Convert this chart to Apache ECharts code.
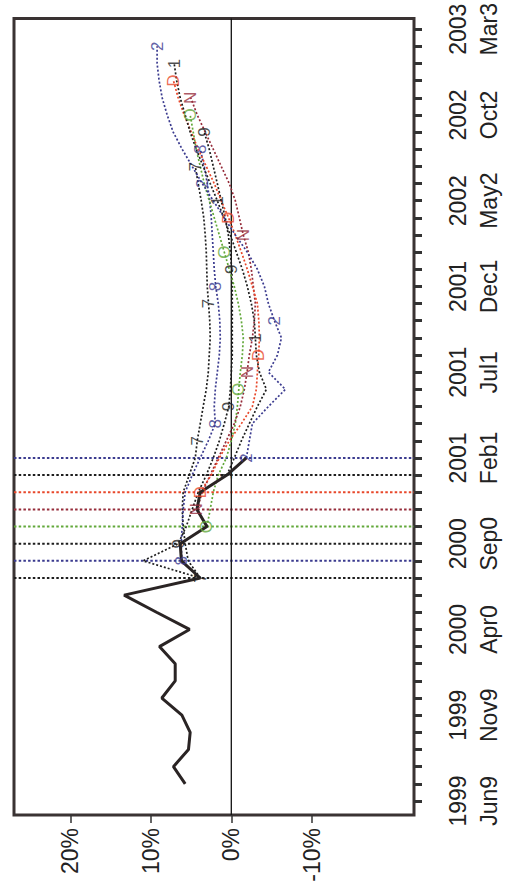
<!DOCTYPE html>
<html><head><meta charset="utf-8">
<script src="https://cdn.jsdelivr.net/npm/echarts@6/dist/echarts.min.js"></script>
<style>html,body{margin:0;padding:0;background:#fff}#c{width:517px;height:890px}</style>
</head><body><div id="c"></div>
<script>
// Month index 0 = Jun 1999 ... 45 = Mar 2003
const tickLabels = ['1999\nJun9','1999\nNov9','2000\nApr0','2000\nSep0','2001\nFeb1','2001\nJul1','2001\nDec1','2002\nMay2','2002\nOct2','2003\nMar3'];
const labelMonths = [0,5,10,15,20,25,30,35,40,45];
const tickMonths = Array.from({length:46},(_,i)=>i);
const pctTicks = [-10,0,10,20];
const pctMin = -22.7, pctMax = 27;
const monthMin = -0.82, monthMax = 45.62;

// actual (solid) series, starting at month 1 (Jul 1999)
const actualStart = 1;
const actual = [5.73,7.19,5.32,5.11,6.14,8.63,6.97,6.97,8.93,5.19,9.29,13.32,3.86,6.2,6.35,3.03,4.27,3.86,0.54,-1.87];

// vintage forecast paths (percent), each with marker label, vintage month and first month
const vintageNames  = ['7','8','9','O','N','D','1','2'];
const vintageMonths = [13,14,15,16,17,18,19,20];
const vintageStarts = [13,14,13,16,17,18,19,20];
const vintageColors = ['#1e1e1e','#3b3b8f','#1e1e1e','#62a83a','#962c3a','#e8472a','#1e1e1e','#3b3b8f'];
const vJul = [3.86,5.35,5.73,5.98,6.10,5.98,5.23,4.48,4.23,3.86,3.49,3.11,2.86,2.74,2.62,2.68,2.83,2.99,3.05,3.11,3.24,3.42,3.74,4.11,4.48];
const vAug = [6.14,6.23,6.10,5.98,5.73,4.86,3.86,2.86,1.99,2.12,1.99,1.74,1.49,1.37,1.43,1.62,1.93,2.12,2.24,2.37,2.49,2.68,2.99,3.36,3.86];
const vSep = [3.86,10.96,6.60,5.60,4.86,4.11,3.11,2.24,1.49,0.87,0.31,0.12,0.00,-0.12,-0.12,-0.12,-0.12,-0.12,-0.06,0.12,0.37,0.75,1.25,1.74,2.24,2.74,3.36];
const vOct = [3.03,2.62,2.24,1.62,0.62,0.00,-0.50,-0.75,-0.93,-1.12,-1.37,-1.49,-1.25,-0.87,-0.37,0.25,0.87,1.49,2.12,2.74,3.36,3.86,4.36,4.73,5.11];
const vNov = [4.27,3.61,2.62,1.62,0.62,-0.37,-1.12,-1.62,-1.96,-2.24,-2.62,-2.86,-2.99,-2.74,-2.49,-2.12,-1.49,-1.00,-0.50,0.25,1.25,2.24,3.24,4.23,5.04];
const vDec = [3.86,2.49,1.49,0.25,-1.25,-2.62,-3.11,-3.24,-3.40,-3.49,-3.42,-3.24,-2.62,-1.99,-1.25,-0.50,0.34,1.25,2.12,3.11,4.11,4.98,5.85,6.60,7.19];
const vJan = [0.54,-0.37,-1.25,-2.24,-3.24,-4.36,-3.49,-3.11,-2.99,-2.86,-2.49,-1.99,-1.37,-0.62,0.12,0.93,1.74,2.62,3.49,4.36,5.11,5.73,6.35,6.79,7.10];
const vFeb = [-1.87,-2.24,-2.62,-4.61,-6.72,-4.61,-5.73,-6.23,-5.36,-4.61,-4.11,-3.24,-1.99,-0.50,0.87,2.24,3.61,4.86,6.10,7.22,7.97,8.59,8.97,9.22,9.22];
const vintageValues = [vJul,vAug,vSep,vOct,vNov,vDec,vJan,vFeb];
const markerStep = 8;

const FONT = '"Liberation Sans", Arial, Helvetica, sans-serif';
const series = [];

// zero reference line
series.push({
  type: 'line', data: [[0, monthMin], [0, monthMax]], symbol: 'none', z: 1, silent: true, clip: false,
  lineStyle: {color: '#111', width: 1.3, type: 'solid'}
});

// vintage date reference lines across the plot, drawn with a custom series through the axes
series.push({
  type: 'custom', silent: true, z: 1, clip: false,
  data: vintageMonths.map((m, k) => [m, k]),
  encode: {y: 0},
  renderItem: (params, api) => {
    const m = api.value(0), k = api.value(1);
    const a = api.coord([pctMax, m]), b = api.coord([pctMin, m]);
    return {type: 'line', shape: {x1: a[0], y1: a[1], x2: b[0], y2: b[1]},
      style: {stroke: vintageColors[k], lineWidth: 2, lineDash: [2.5, 2.2], fill: null}};
  }
});

vintageValues.forEach((vals, k) => {
  const color = vintageColors[k];
  const start = vintageStarts[k];
  const vm = vintageMonths[k];
  const pts = vals.map((v, i) => [v, start + i]);
  series.push({
    type: 'line', data: pts, symbol: 'none', z: 2,
    lineStyle: {color, width: 1.7, type: [2, 2]}
  });
  const marks = pts.filter(p => (p[1] - vm) >= 0 && (p[1] - vm) % markerStep === 0);
  series.push({
    type: 'scatter', data: marks, symbol: 'circle', symbolSize: 1, z: 4,
    itemStyle: {color: 'rgba(0,0,0,0)'},
    label: {show: true, position: 'inside', rotate: 90, formatter: vintageNames[k],
      color, fontSize: 17, fontFamily: FONT}
  });
});

series.push({
  type: 'line', data: actual.map((v, i) => [v, actualStart + i]), symbol: 'none', z: 3,
  lineStyle: {color: '#2a2424', width: 3}
});

const chart = echarts.init(document.getElementById('c'), null, {renderer: 'svg'});
chart.setOption({
  animation: false,
  backgroundColor: '#fff',
  grid: {left: 14, right: 103, top: 5, bottom: 75, show: true, borderColor: '#3a3333', borderWidth: 3, backgroundColor: 'transparent'},
  xAxis: {
    type: 'value', inverse: true, min: pctMin, max: pctMax, position: 'bottom',
    axisLine: {show: false, onZero: false}, splitLine: {show: false},
    axisTick: {show: true, customValues: pctTicks, length: 8, lineStyle: {color: '#333', width: 1.5}},
    axisLabel: {customValues: pctTicks, formatter: v => v + '%', rotate: 90, fontSize: 23,
      color: '#222', margin: 13, fontFamily: FONT}
  },
  yAxis: {
    type: 'value', position: 'right', min: monthMin, max: monthMax,
    axisLine: {show: false, onZero: false}, splitLine: {show: false},
    axisTick: {show: true, customValues: tickMonths, length: 8, lineStyle: {color: '#333', width: 3}},
    axisLabel: {customValues: labelMonths, formatter: v => tickLabels[Math.round(v / 5)], rotate: 90,
      fontSize: 23, lineHeight: 30.5, color: '#222', margin: 29, fontFamily: FONT}
  },
  series
});
</script></body></html>
